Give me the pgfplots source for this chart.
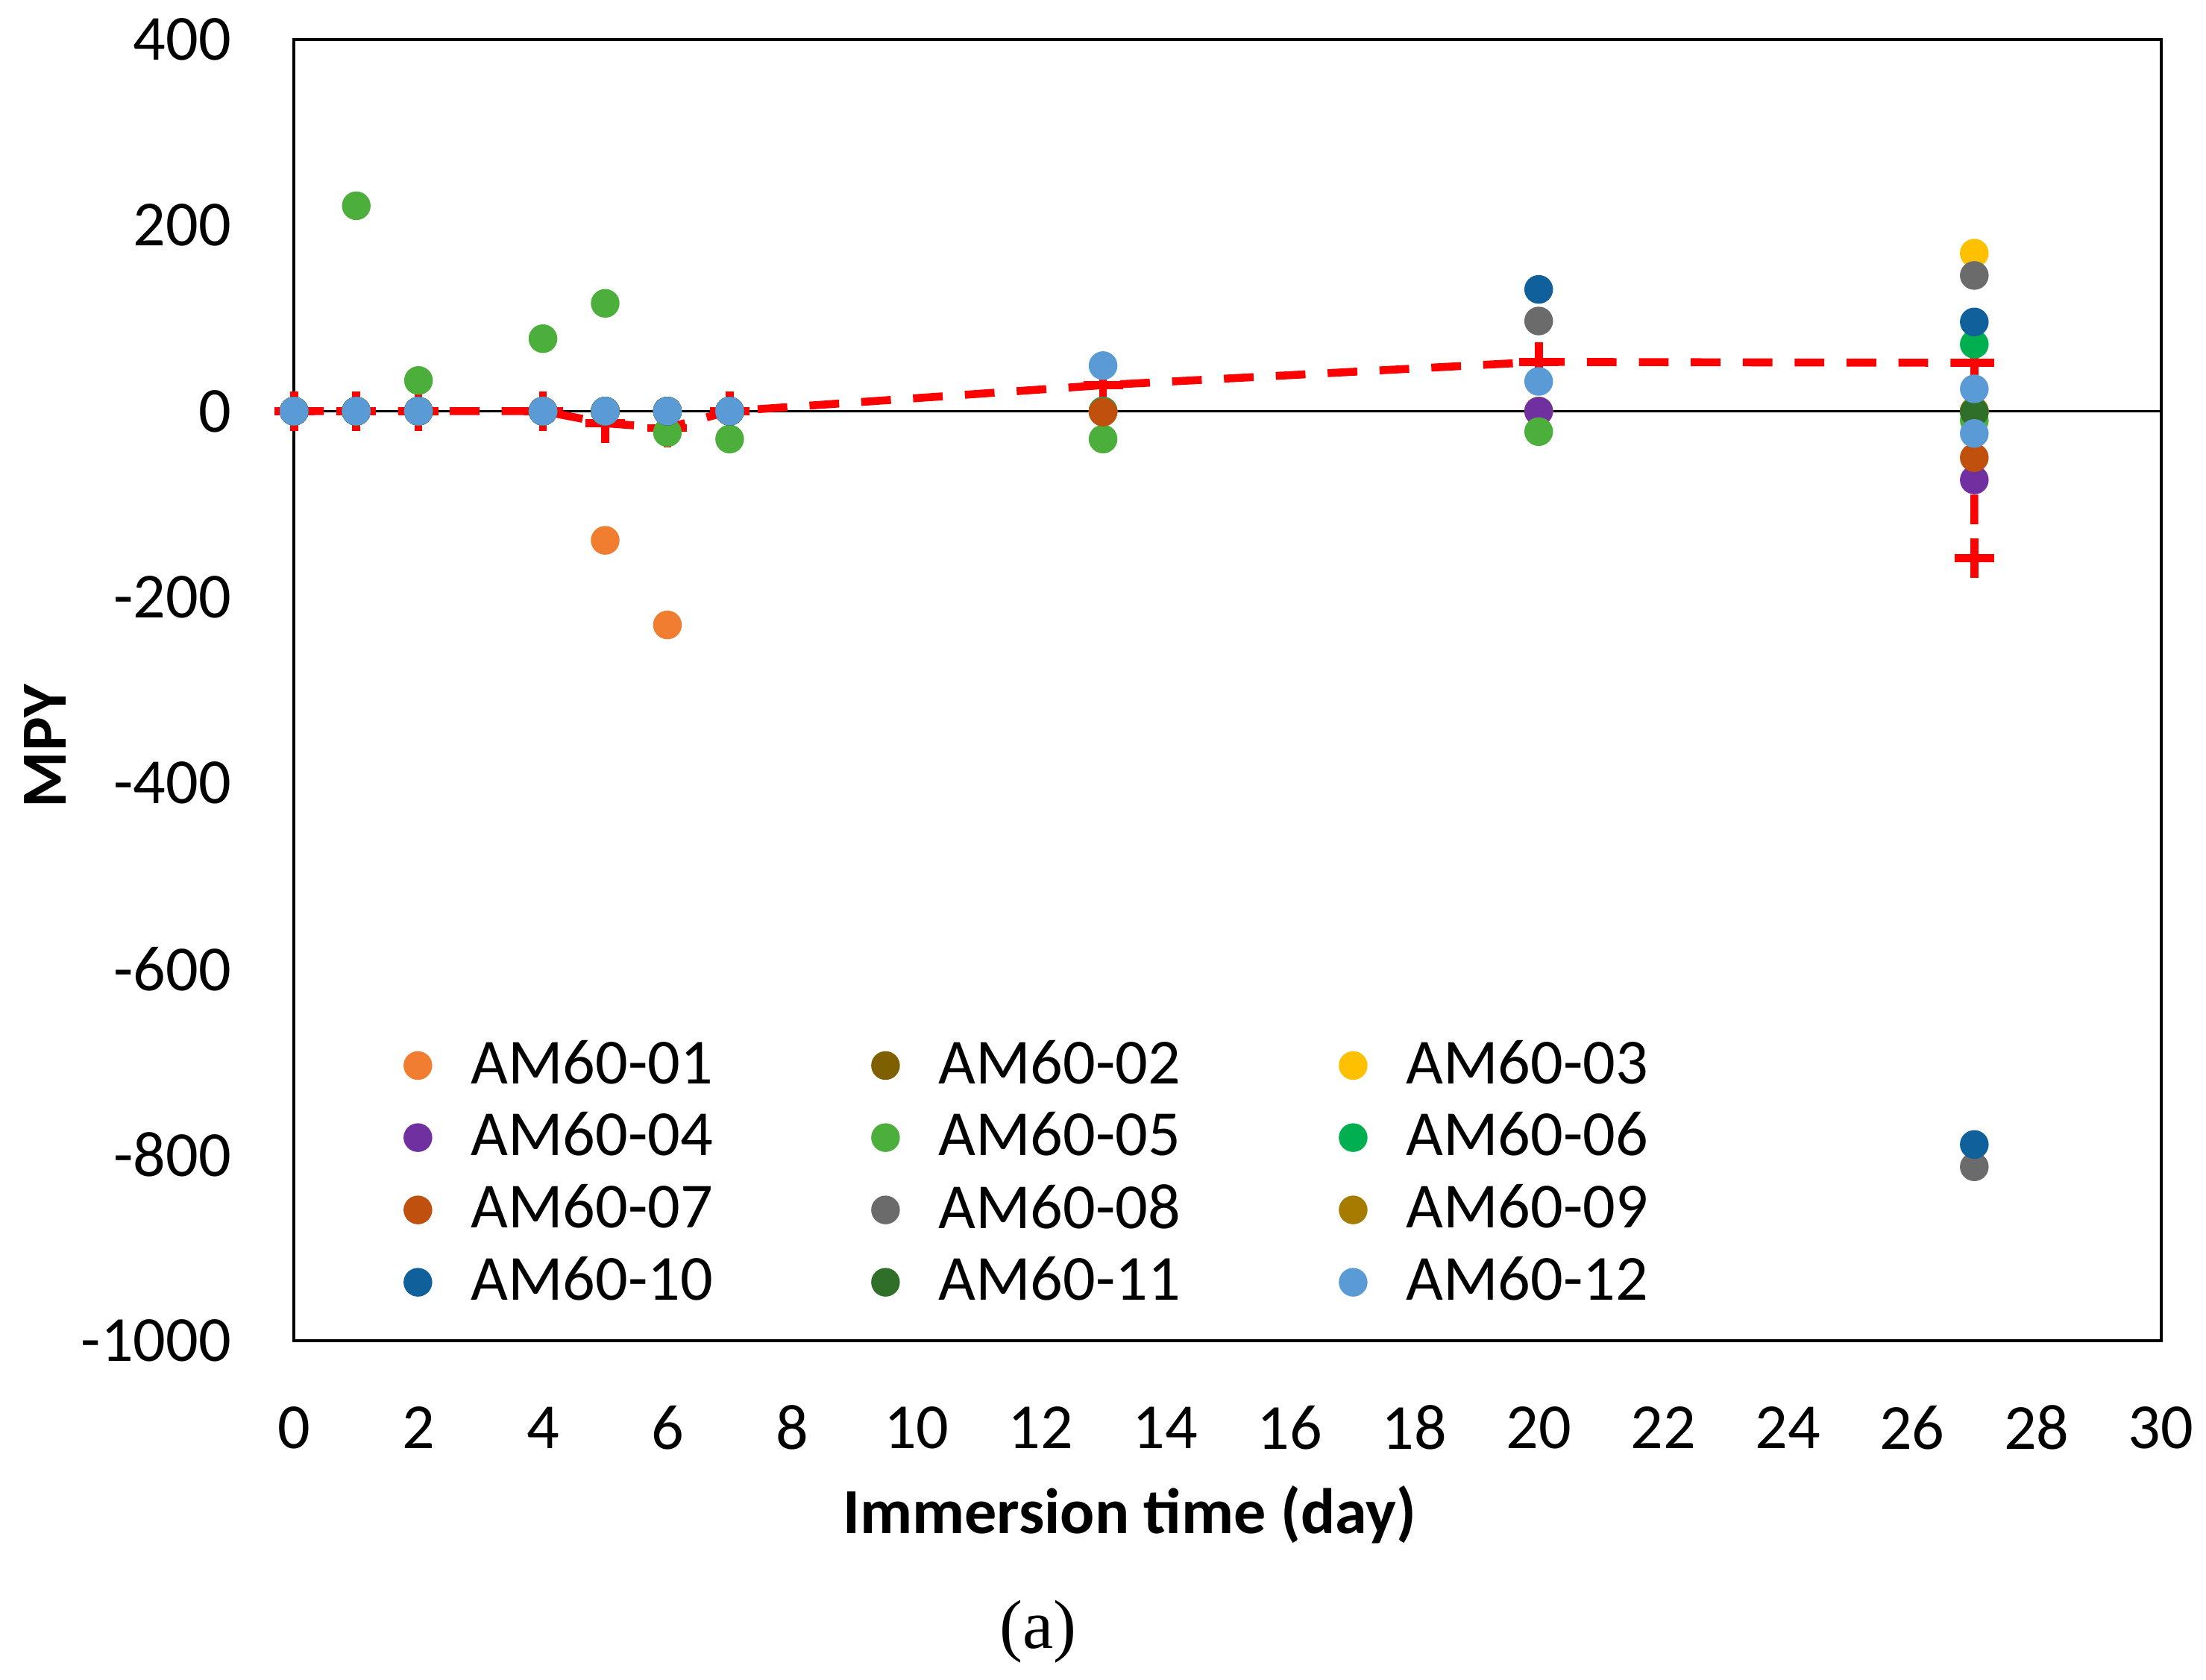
\documentclass[border=0pt]{standalone}
\usepackage{fontspec}
\setmainfont{Carlito}
\newfontfamily\capfont{Liberation Serif}
\usepackage{pgfplots}
\pgfplotsset{compat=1.18}

\definecolor{c01}{HTML}{F07D30}
\definecolor{c02}{HTML}{7F6000}
\definecolor{c03}{HTML}{FFC000}
\definecolor{c04}{HTML}{7030A0}
\definecolor{c05}{HTML}{4CAF3C}
\definecolor{c06}{HTML}{00B050}
\definecolor{c07}{HTML}{C0500E}
\definecolor{c08}{HTML}{6B6B6B}
\definecolor{c09}{HTML}{A67C00}
\definecolor{c10}{HTML}{0F609B}
\definecolor{c11}{HTML}{2F6F2A}
\definecolor{c12}{HTML}{5B9BD5}

\pgfplotsset{
  dot/.style={only marks, mark=*, mark size=2.7pt, color=#1, mark options={draw=#1, fill=#1}},
}

\begin{document}
\begin{tikzpicture}
\begin{axis}[
  scale only axis, width=132.7mm, height=92.5mm,
  xmin=0, xmax=30, ymin=-1000, ymax=400,
  xtick distance=2, ytick distance=200,
  tick style={draw=none},
  axis line style={line width=0.6pt},
  clip=false,
  font=\fontsize{13}{15}\selectfont,
  /pgf/number format/assume math mode=true,
  /pgf/number format/1000 sep={},
  xticklabel style={anchor=center, yshift=-6.2mm, inner sep=0pt},
  yticklabel style={anchor=east, xshift=-4.4mm, inner sep=0pt},
  xlabel={Immersion time (day)},
  xlabel style={font=\fontsize{13}{15}\selectfont\bfseries, at={(axis description cs:0.4476,0)}, anchor=center, yshift=-12.4mm},
  ylabel={MPY},
  ylabel style={font=\fontsize{13}{15}\selectfont\bfseries, at={(axis description cs:-0.1334,0.457)}, anchor=center},
  legend columns=3,
  legend cell align=left,
  legend image code/.code={\draw[#1] plot coordinates {(0pt,0pt)};},
  legend style={at={(axis cs:1.76,-665)}, anchor=north west, draw=none, fill=none,
    inner sep=0pt, row sep=0.3pt,
    font=\fontsize{13}{15}\selectfont,
    /tikz/every odd column/.append style={column sep=6pt},
    /tikz/every even column/.append style={column sep=30.2pt}},
]
\draw[black, line width=0.5pt] (axis cs:0,0) -- (axis cs:30,0);

% average
\addplot[red, line width=1.6pt, dash pattern=on 6pt off 4.5pt, mark=+, mark size=4pt,
  mark options={solid, line width=1.6pt}, forget plot]
  coordinates {(0,0) (1,0) (2,0) (4,0) (5,-13) (6,-18) (7,0) (13,28) (20,53) (27,52) (27,-158)};

\addplot[dot=c01] coordinates {(0,0) (1,0) (2,0) (4,0) (5,-139) (6,-230) (7,0) (13,0) (20,0) (27,0)};
\addplot[dot=c02] coordinates {(0,0) (1,0) (2,0) (4,0) (5,0) (6,0) (7,0) (13,0) (20,0) (27,0)};
\addplot[dot=c03] coordinates {(0,0) (1,0) (2,0) (4,0) (5,0) (6,0) (7,0) (13,0) (20,0) (27,170)};
\addplot[dot=c04] coordinates {(0,0) (1,0) (2,0) (4,0) (5,0) (6,0) (7,0) (13,0) (20,0) (27,-74)};
\addplot[dot=c05] coordinates {(0,0) (1,221) (2,33) (4,78) (5,116) (6,-23) (7,-30) (13,-30) (20,-22) (27,-10)};
\addplot[dot=c06] coordinates {(0,0) (1,0) (2,0) (4,0) (5,0) (6,0) (7,0) (13,0) (27,72)};
\addplot[dot=c07] coordinates {(0,0) (1,0) (2,0) (4,0) (5,0) (6,0) (7,0) (13,-1) (27,-50)};
\addplot[dot=c08] coordinates {(0,0) (1,0) (2,0) (4,0) (5,0) (6,0) (7,0) (20,97) (27,146) (27,-813)};
\addplot[dot=c09] coordinates {(0,0) (1,0) (2,0) (4,0) (5,0) (6,0) (7,0) (27,0)};
\addplot[dot=c10] coordinates {(0,0) (1,0) (2,0) (4,0) (5,0) (6,0) (7,0) (20,131) (27,96) (27,-789)};
\addplot[dot=c11] coordinates {(0,0) (1,0) (2,0) (4,0) (5,0) (6,0) (7,0) (27,-1)};
\addplot[dot=c12] coordinates {(0,0) (1,0) (2,0) (4,0) (5,0) (6,0) (7,0) (13,49) (20,32) (27,24) (27,-24)};

\legend{AM60-01,AM60-02,AM60-03,AM60-04,AM60-05,AM60-06,AM60-07,AM60-08,AM60-09,AM60-10,AM60-11,AM60-12}
\end{axis}
\node[font=\capfont\fontsize{14}{16}\selectfont] at (52.9mm,-20.7mm) {(a)};
\pgfresetboundingbox
\path[use as bounding box] (-20.9mm,-24.1mm) rectangle (135.9mm,95.3mm);
\end{tikzpicture}
\end{document}
